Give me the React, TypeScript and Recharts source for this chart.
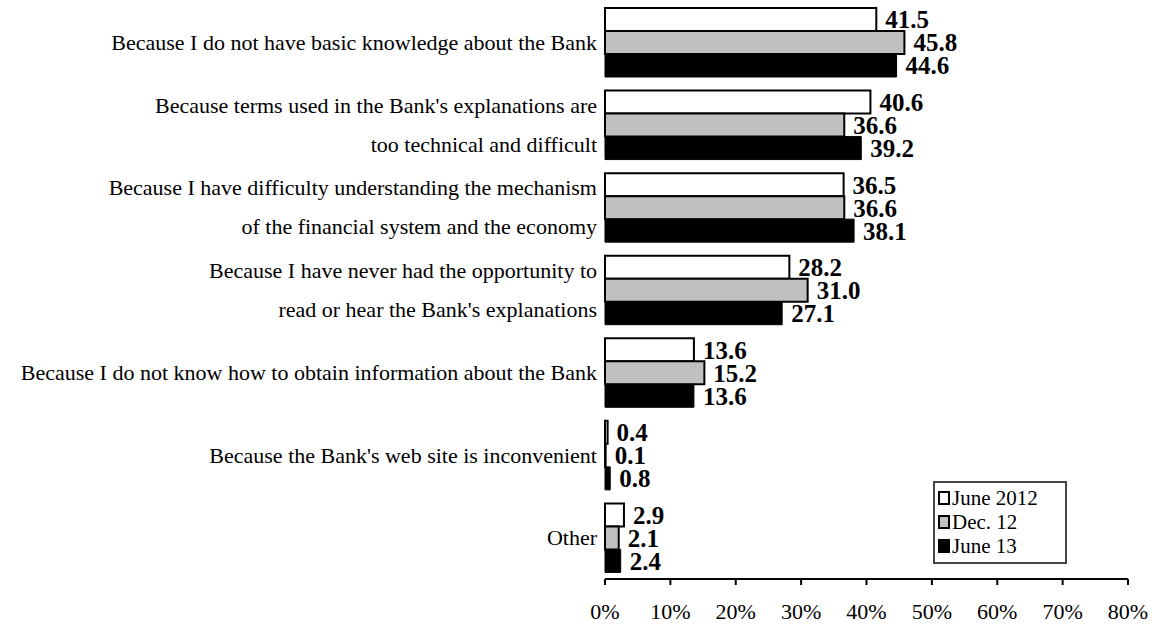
import React from "react";
import { BarChart, Bar, XAxis, YAxis, LabelList, Legend } from "recharts";

const categories = [
  "Because I do not have basic knowledge about the Bank",
  "Because terms used in the Bank's explanations are\ntoo technical and difficult",
  "Because I have difficulty understanding the mechanism\nof the financial system and the economy",
  "Because I have never had the opportunity to\nread or hear the Bank's explanations",
  "Because I do not know how to obtain information about the Bank",
  "Because the Bank's web site is inconvenient",
  "Other",
];
const june2012 = [41.5, 40.6, 36.5, 28.2, 13.6, 0.4, 2.9];
const dec12 = [45.8, 36.6, 36.6, 31.0, 15.2, 0.1, 2.1];
const june13 = [44.6, 39.2, 38.1, 27.1, 13.6, 0.8, 2.4];
const xTicks = [0, 10, 20, 30, 40, 50, 60, 70, 80];

const seriesNames = ["June 2012", "Dec. 12", "June 13"];
const seriesFills = ["#ffffff", "#c0c0c0", "#000000"];

const data = categories.map((name, i) => ({
  name,
  a: june2012[i],
  b: dec12[i],
  c: june13[i],
}));

const FONT = "'Liberation Serif', 'Times New Roman', serif";

const CategoryTick = (props: any) => {
  const { x, y, payload } = props;
  const lines: string[] = String(payload.value).split("\n");
  const spacing = 39;
  const start = -((lines.length - 1) * spacing) / 2;
  return (
    <g>
      {lines.map((ln, i) => (
        <text
          key={i}
          x={x}
          y={y + start + i * spacing}
          textAnchor="end"
          dominantBaseline="central"
          fontFamily={FONT}
          fontSize={22}
          fill="#000"
        >
          {ln}
        </text>
      ))}
    </g>
  );
};

const renderLegend = () => (
  <div
    style={{
      border: "2px solid #444",
      background: "#fff",
      padding: "3px 6px 4px 3px",
      fontFamily: FONT,
      fontSize: 21,
      color: "#000",
      width: 121,
    }}
  >
    {seriesNames.map((n, i) => (
      <div key={n} style={{ display: "flex", alignItems: "center", height: 24 }}>
        <span
          style={{
            display: "inline-block",
            width: 8,
            height: 10,
            background: seriesFills[i],
            border: "2px solid #000",
            marginRight: 2,
          }}
        />
        <span>{n}</span>
      </div>
    ))}
  </div>
);

const labelFmt = (v: any) => Number(v).toFixed(1);
const labelStyle = { fontFamily: FONT, fontSize: 25, fontWeight: 700, fill: "#000" };

export default function App() {
  return (
    <div style={{ position: "absolute", left: 0, top: 0, background: "#fff" }}>
      <BarChart
        width={1152}
        height={629}
        data={data}
        layout="vertical"
        margin={{ top: 1, right: 24, bottom: 0, left: 0 }}
        barCategoryGap={7}
        barGap={0}
      >
        <XAxis
          type="number"
          domain={[0, 80]}
          ticks={xTicks}
          tickFormatter={(v: number) => `${v}%`}
          height={50}
          axisLine={{ stroke: "#000", strokeWidth: 2 }}
          tickLine={{ stroke: "#000", strokeWidth: 2 }}
          tickSize={6}
          tickMargin={18}
          tick={{ fontFamily: FONT, fontSize: 22, fill: "#000" }}
          interval={0}
        />
        <YAxis
          type="category"
          dataKey="name"
          width={605}
          axisLine={false}
          tickLine={false}
          tick={<CategoryTick />}
          interval={0}
        />
        <Legend
          layout="vertical"
          align="center"
          verticalAlign="middle"
          content={renderLegend}
          wrapperStyle={{ position: "absolute", left: 933, top: 481, width: "auto" }}
        />
        <Bar dataKey="a" name="June 2012" fill="#ffffff" stroke="#000" strokeWidth={2} isAnimationActive={false}>
          <LabelList dataKey="a" position="right" offset={9} formatter={labelFmt} style={labelStyle} />
        </Bar>
        <Bar dataKey="b" name="Dec. 12" fill="#c0c0c0" stroke="#000" strokeWidth={2} isAnimationActive={false}>
          <LabelList dataKey="b" position="right" offset={9} formatter={labelFmt} style={labelStyle} />
        </Bar>
        <Bar dataKey="c" name="June 13" fill="#000000" stroke="#000" strokeWidth={1} isAnimationActive={false}>
          <LabelList dataKey="c" position="right" offset={9} formatter={labelFmt} style={labelStyle} />
        </Bar>
      </BarChart>
    </div>
  );
}
